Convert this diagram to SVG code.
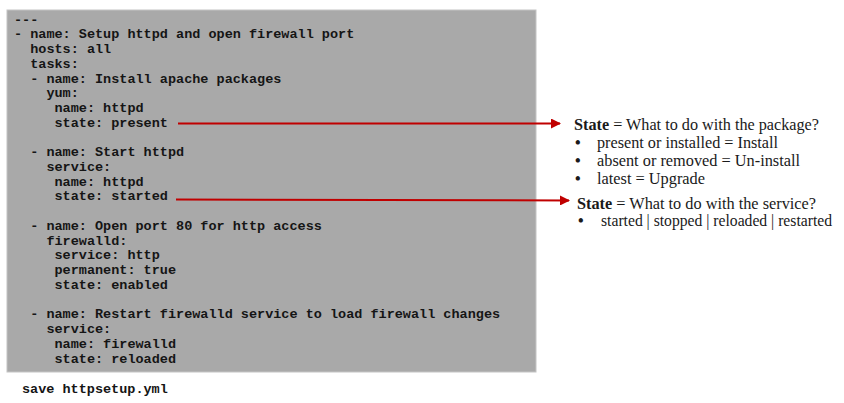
<svg xmlns="http://www.w3.org/2000/svg" width="844" height="403" viewBox="0 0 844 403">
  <defs>
    <style>
      .code { font-family: "Liberation Mono", "Courier New", monospace; font-weight: bold; font-size: 13.5px; fill: #151515; white-space: pre; }
      .note { font-family: "Liberation Serif", "Times New Roman", serif; font-size: 16px; fill: #1a1a1a; }
      .dot { font-family: "Liberation Serif", "Times New Roman", serif; font-size: 16px; font-weight: bold; fill: #1a1a1a; }
      .b { font-weight: bold; }
      .conn { stroke: #c00000; stroke-width: 2; fill: none; }
    </style>
    <marker id="arr" viewBox="0 0 10 10" refX="9" refY="5" markerWidth="5" markerHeight="5" orient="auto" markerUnits="strokeWidth">
      <path d="M0,0 L10,5 L0,10 z" fill="#c00000"/>
    </marker>
  </defs>
  <rect width="844" height="403" fill="#ffffff"/>

  <g id="playbook">
    <rect x="7" y="10" width="529" height="362" fill="#a9a9a9" stroke="#c4c4c4" stroke-width="1"/>
    <text class="code" xml:space="preserve">
      <tspan x="14" y="23.6">---</tspan>
      <tspan x="14" y="38.3">- name: Setup httpd and open firewall port</tspan>
      <tspan x="14" y="53.0">  hosts: all</tspan>
      <tspan x="14" y="67.8">  tasks:</tspan>
      <tspan x="14" y="82.5">  - name: Install apache packages</tspan>
      <tspan x="14" y="97.3">    yum:</tspan>
      <tspan x="14" y="112.0">     name: httpd</tspan>
      <tspan x="14" y="126.7">     state: present</tspan>
      <tspan x="14" y="156.2">  - name: Start httpd</tspan>
      <tspan x="14" y="171.0">    service:</tspan>
      <tspan x="14" y="185.7">     name: httpd</tspan>
      <tspan x="14" y="200.4">     state: started</tspan>
      <tspan x="14" y="229.9">  - name: Open port 80 for http access</tspan>
      <tspan x="14" y="244.7">    firewalld:</tspan>
      <tspan x="14" y="259.4">     service: http</tspan>
      <tspan x="14" y="274.1">     permanent: true</tspan>
      <tspan x="14" y="288.9">     state: enabled</tspan>
      <tspan x="14" y="318.4">  - name: Restart firewalld service to load firewall changes</tspan>
      <tspan x="14" y="333.1">    service:</tspan>
      <tspan x="14" y="347.8">     name: firewalld</tspan>
      <tspan x="14" y="362.6">     state: reloaded</tspan>
    </text>
  </g>

  <g id="save-note">
    <text class="code" x="22" y="392.5">save httpsetup.yml</text>
  </g>

  <g id="package-state">
    <text class="note" x="574" y="129.5" textLength="245" lengthAdjust="spacingAndGlyphs"><tspan class="b">State</tspan> = What to do with the package?</text>
    <text class="dot" x="575" y="147.5">•</text>
    <text class="note" x="597" y="147.5" textLength="181" lengthAdjust="spacingAndGlyphs">present or installed = Install</text>
    <text class="dot" x="575" y="165.5">•</text>
    <text class="note" x="597" y="165.5" textLength="203" lengthAdjust="spacingAndGlyphs">absent or removed = Un-install</text>
    <text class="dot" x="575" y="183.5">•</text>
    <text class="note" x="597" y="183.5" textLength="108" lengthAdjust="spacingAndGlyphs">latest = Upgrade</text>
  </g>

  <g id="service-state">
    <text class="note" x="577" y="209" textLength="239" lengthAdjust="spacingAndGlyphs"><tspan class="b">State</tspan> = What to do with the service?</text>
    <text class="dot" x="578" y="226">•</text>
    <text class="note" x="601" y="226" textLength="231" lengthAdjust="spacingAndGlyphs">started | stopped | reloaded | restarted</text>
  </g>

  <g id="connectors">
    <line class="conn" x1="178" y1="123.5" x2="560" y2="123.5" marker-end="url(#arr)"/>
    <line class="conn" x1="176" y1="199.5" x2="569" y2="200.5" marker-end="url(#arr)"/>
  </g>
</svg>
